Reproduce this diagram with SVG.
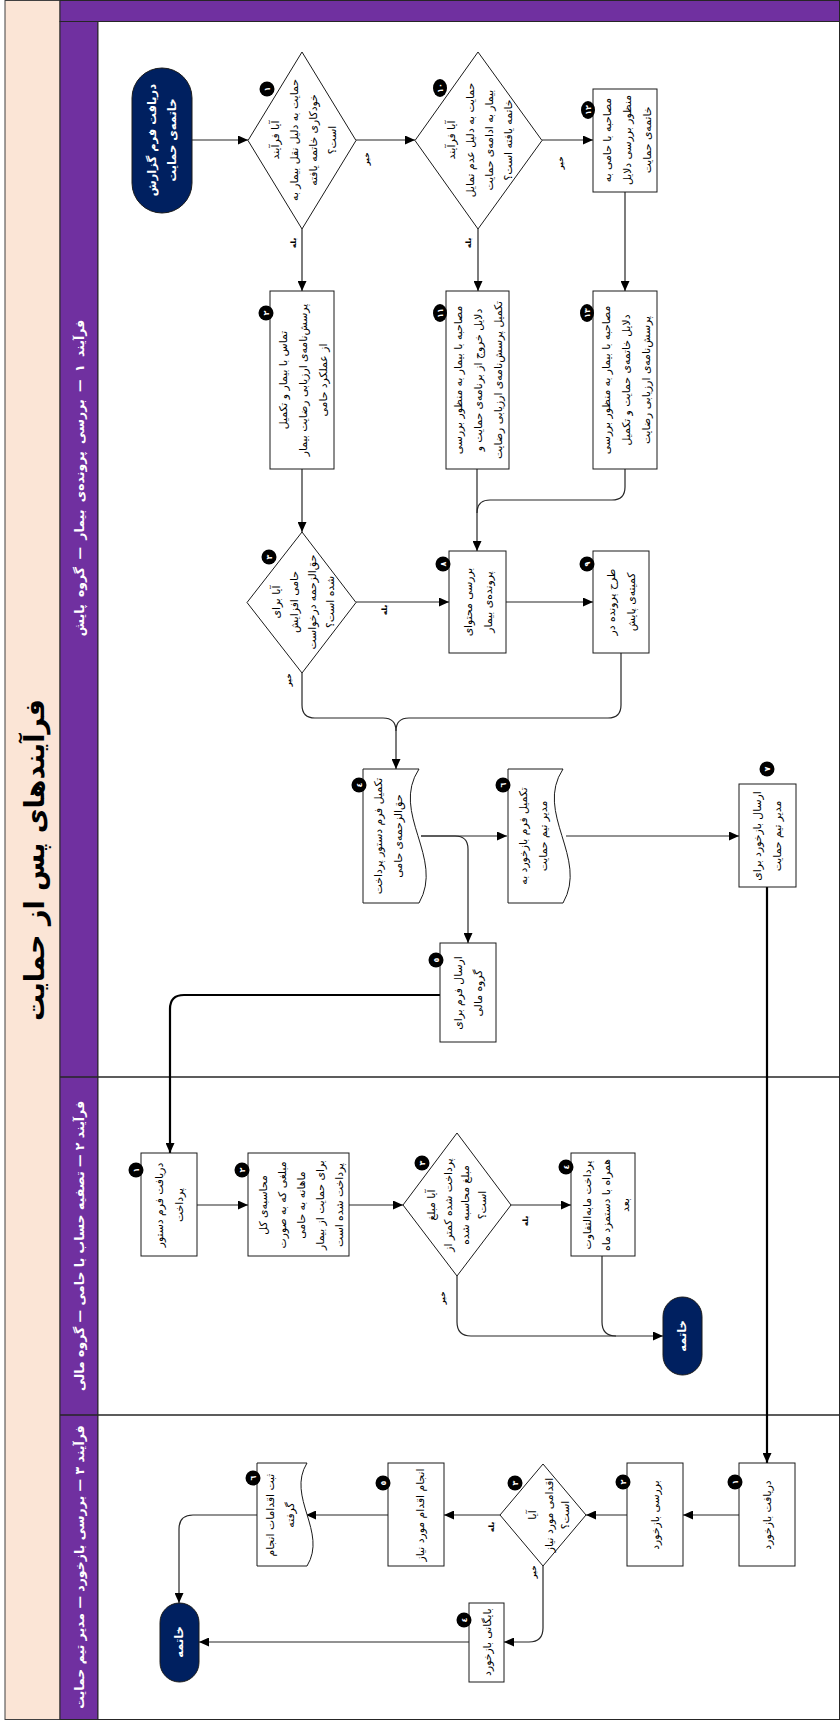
<svg xmlns="http://www.w3.org/2000/svg" width="840" height="1720" viewBox="0 0 840 1720">
  <style>
    .box { fill: #ffffff; stroke: #1a1a1a; stroke-width: 1; }
    .term { fill: #002060; stroke: #1a1a1a; stroke-width: 1; }
    .conn { fill: none; stroke: #262626; stroke-width: 1.2; }
    .thick { fill: none; stroke: #000000; stroke-width: 2.2; }
    .t { font-family: "DejaVu Sans", sans-serif; font-size: 10.8px; fill: #000000; text-anchor: middle; }
    .tw { font-family: "DejaVu Sans", sans-serif; font-size: 11.5px; font-weight: bold; fill: #ffffff; text-anchor: middle; }
    .lane { font-family: "DejaVu Sans", sans-serif; font-size: 12.5px; font-weight: bold; fill: #ffffff; text-anchor: middle; }
    .title { font-family: "DejaVu Sans", sans-serif; font-size: 27px; font-weight: bold; fill: #000000; text-anchor: middle; }
    .yn { font-family: "DejaVu Sans", sans-serif; font-size: 7.5px; font-weight: bold; fill: #000000; text-anchor: middle; }
    .bdg { fill: #000000; }
    .bt { font-family: "DejaVu Sans", sans-serif; font-size: 8px; font-weight: bold; fill: #ffffff; text-anchor: middle; }
  </style>
  <defs>
    <marker id="arr" markerUnits="userSpaceOnUse" markerWidth="11" markerHeight="9" refX="10" refY="4.5" orient="auto">
      <path d="M0,0 L10,4.5 L0,9 z" fill="#000000"/>
    </marker>
  </defs>

  <!-- frame and swimlanes -->
  <g id="frame">
    <rect x="0" y="0" width="840" height="1720" fill="#ffffff"/>
    <rect x="5" y="0.5" width="55" height="1719" fill="#fbe5d6" stroke="#404040" stroke-width="1"/>
    <rect x="60" y="0.5" width="779.5" height="21" fill="#7030a0" stroke="#262626" stroke-width="1"/>
    <rect x="60" y="21.5" width="38" height="1698" fill="#7030a0" stroke="#262626" stroke-width="1"/>
    <rect x="98" y="21.5" width="741.5" height="1698" fill="#ffffff" stroke="#262626" stroke-width="1"/>
    <line x1="60" y1="1077" x2="840" y2="1077" stroke="#262626" stroke-width="1.3"/>
    <line x1="60" y1="1415" x2="840" y2="1415" stroke="#262626" stroke-width="1.3"/>
    <text class="title" transform="translate(44,860) rotate(-90)">فرآیندهای پس از حمایت</text>
    <text class="lane" transform="translate(84,478) rotate(-90)" word-spacing="3">فرآیند ١ — بررسی پرونده&#8204;ی بیمار — گروه پایش</text>
    <text class="lane" transform="translate(84,1246) rotate(-90)">فرآیند ٢ — تصفیه حساب با حامی — گروه مالی</text>
    <text class="lane" transform="translate(84,1567) rotate(-90)">فرآیند ٣ — بررسی بازخورد — مدیر تیم حمایت</text>
  </g>

  <!-- connectors -->
  <g id="connectors">
    <path class="conn" d="M192,140 H248" marker-end="url(#arr)"/>
    <path class="conn" d="M356,140 H415" marker-end="url(#arr)"/>
    <path class="conn" d="M302,229 V291" marker-end="url(#arr)"/>
    <path class="conn" d="M542,140 H593" marker-end="url(#arr)"/>
    <path class="conn" d="M478,229 V291" marker-end="url(#arr)"/>
    <path class="conn" d="M625,192 V291" marker-end="url(#arr)"/>
    <path class="conn" d="M302,469 V532" marker-end="url(#arr)"/>
    <path class="conn" d="M477,469 V551" marker-end="url(#arr)"/>
    <path class="conn" d="M625,469 V487 Q625,500 612,500 H490 Q477,500 477,513"/>
    <path class="conn" d="M356,602 H449" marker-end="url(#arr)"/>
    <path class="conn" d="M506,602 H593" marker-end="url(#arr)"/>
    <path class="conn" d="M302,673 V705 Q302,718 315,718 H383 Q396,718 396,731 V769" marker-end="url(#arr)"/>
    <path class="conn" d="M621,653 V705 Q621,718 608,718 H409 Q396,718 396,731"/>
    <path class="conn" d="M421,836 H507" marker-end="url(#arr)"/>
    <path class="conn" d="M421,836 H455 Q468,836 468,849 V943" marker-end="url(#arr)"/>
    <path class="conn" d="M566,836 H739" marker-end="url(#arr)"/>
    <path class="thick" d="M440,995 H184 Q170,995 170,1009 V1153" marker-end="url(#arr)"/>
    <path class="thick" d="M767,887 V1463" marker-end="url(#arr)"/>
    <path class="conn" d="M197,1205 H248" marker-end="url(#arr)"/>
    <path class="conn" d="M349,1205 H403" marker-end="url(#arr)"/>
    <path class="conn" d="M511,1205 H571" marker-end="url(#arr)"/>
    <path class="conn" d="M457,1276 V1322 Q457,1336 471,1336 H663" marker-end="url(#arr)"/>
    <path class="conn" d="M602,1256 V1322 Q602,1336 616,1336"/>
    <path class="conn" d="M739,1515 H683" marker-end="url(#arr)"/>
    <path class="conn" d="M627,1515 H586" marker-end="url(#arr)"/>
    <path class="conn" d="M500,1515 H444" marker-end="url(#arr)"/>
    <path class="conn" d="M543,1566 V1628 Q543,1642 529,1642 H504" marker-end="url(#arr)"/>
    <path class="conn" d="M388,1515 H306" marker-end="url(#arr)"/>
    <path class="conn" d="M257,1515 H193 Q179,1515 179,1529 V1603" marker-end="url(#arr)"/>
    <path class="conn" d="M469,1642 H199" marker-end="url(#arr)"/>
    <text class="yn" transform="translate(369,159) rotate(-90)">خیر</text>
    <text class="yn" transform="translate(296,243) rotate(-90)">بله</text>
    <text class="yn" transform="translate(563,163) rotate(-90)">خیر</text>
    <text class="yn" transform="translate(471,243) rotate(-90)">بله</text>
    <text class="yn" transform="translate(387,610) rotate(-90)">بله</text>
    <text class="yn" transform="translate(291,680) rotate(-90)">خیر</text>
    <text class="yn" transform="translate(528,1221) rotate(-90)">بله</text>
    <text class="yn" transform="translate(445,1298) rotate(-90)">خیر</text>
    <text class="yn" transform="translate(536,1572) rotate(-90)">خیر</text>
    <text class="yn" transform="translate(494,1527) rotate(-90)">بله</text>
  </g>

  <!-- lane 1 -->
  <g id="start">
    <rect class="term" x="132" y="68" width="60" height="145" rx="30" ry="30"/>
    <text class="tw" transform="translate(162,140) rotate(-90)"><tspan x="0" y="-6">دریافت فرم گزارش</tspan><tspan x="0" y="14">خاتمه&#8204;ی حمایت</tspan></text>
  </g>
  <g id="d1">
    <polygon class="box" points="302,52 356,140.5 302,229 248,140.5"/>
    <text class="t" transform="translate(304,140) rotate(-90)"><tspan x="0" y="-25">آیا فرآیند</tspan><tspan x="0" y="-6">حمایت به دلیل نقل بیمار به</tspan><tspan x="0" y="13">خودکاری خاتمه یافته</tspan><tspan x="0" y="32">است؟</tspan></text>
    <circle class="bdg" cx="267" cy="89" r="7.5"/>
    <text class="bt" transform="translate(267,89) rotate(-90)" y="3">١</text>
  </g>
  <g id="d10">
    <polygon class="box" points="478,52 542,140.5 478,229 415,140.5"/>
    <text class="t" transform="translate(480,140) rotate(-90)"><tspan x="0" y="-25">آیا فرآیند</tspan><tspan x="0" y="-6">حمایت به دلیل عدم تمایل</tspan><tspan x="0" y="13">بیمار به ادامه&#8204;ی حمایت</tspan><tspan x="0" y="32">خاتمه یافته است؟</tspan></text>
    <ellipse class="bdg" cx="440" cy="88" rx="7" ry="9"/>
    <text class="bt" transform="translate(440,88) rotate(-90)" y="3">١٠</text>
  </g>
  <g id="n12">
    <rect class="box" x="593" y="89" width="64" height="103"/>
    <text class="t" transform="translate(627,140) rotate(-90)"><tspan x="0" y="-16">مصاحبه با حامی به</tspan><tspan x="0" y="4">منظور بررسی دلایل</tspan><tspan x="0" y="24">خاتمه&#8204;ی حمایت</tspan></text>
    <ellipse class="bdg" cx="588" cy="110" rx="7" ry="9"/>
    <text class="bt" transform="translate(588,110) rotate(-90)" y="3">١٢</text>
  </g>
  <g id="n2">
    <rect class="box" x="270" y="291" width="64" height="178"/>
    <text class="t" transform="translate(303,380) rotate(-90)"><tspan x="0" y="-16">تماس با بیمار و تکمیل</tspan><tspan x="0" y="4">پرسش&#8204;نامه&#8204;ی ارزیابی رضایت بیمار</tspan><tspan x="0" y="24">از عملکرد حامی</tspan></text>
    <circle class="bdg" cx="266" cy="313" r="7.5"/>
    <text class="bt" transform="translate(266,313) rotate(-90)" y="3">٢</text>
  </g>
  <g id="n11">
    <rect class="box" x="446" y="291" width="63" height="178"/>
    <text class="t" transform="translate(478,380) rotate(-90)"><tspan x="0" y="-16">مصاحبه با بیمار به منظور بررسی</tspan><tspan x="0" y="4">دلایل خروج از برنامه&#8204;ی حمایت و</tspan><tspan x="0" y="24">تکمیل پرسش&#8204;نامه&#8204;ی ارزیابی رضایت</tspan></text>
    <ellipse class="bdg" cx="440" cy="313" rx="7" ry="9"/>
    <text class="bt" transform="translate(440,313) rotate(-90)" y="3">١١</text>
  </g>
  <g id="n13">
    <rect class="box" x="593" y="291" width="64" height="178"/>
    <text class="t" transform="translate(626,380) rotate(-90)"><tspan x="0" y="-16">مصاحبه با بیمار به منظور بررسی</tspan><tspan x="0" y="4">دلایل خاتمه&#8204;ی  حمایت و تکمیل</tspan><tspan x="0" y="24">پرسش&#8204;نامه&#8204;ی ارزیابی رضایت</tspan></text>
    <ellipse class="bdg" cx="587" cy="313" rx="7" ry="9"/>
    <text class="bt" transform="translate(587,313) rotate(-90)" y="3">١٣</text>
  </g>
  <g id="d3">
    <polygon class="box" points="302,532 356,602.5 302,673 247,602.5"/>
    <text class="t" transform="translate(304,602) rotate(-90)"><tspan x="0" y="-24">آیا برای</tspan><tspan x="0" y="-6">حامی افزایش</tspan><tspan x="0" y="12">حق&#8204;الزحمه درخواست</tspan><tspan x="0" y="30">شده است؟</tspan></text>
    <circle class="bdg" cx="269" cy="557" r="7.5"/>
    <text class="bt" transform="translate(269,557) rotate(-90)" y="3">٣</text>
  </g>
  <g id="n8">
    <rect class="box" x="449" y="551" width="57" height="102"/>
    <text class="t" transform="translate(478,602) rotate(-90)"><tspan x="0" y="-6">بررسی محتوای</tspan><tspan x="0" y="14">پرونده&#8204;ی بیمار</tspan></text>
    <circle class="bdg" cx="443" cy="564" r="7.5"/>
    <text class="bt" transform="translate(443,564) rotate(-90)" y="3">٨</text>
  </g>
  <g id="n9">
    <rect class="box" x="593" y="551" width="56" height="102"/>
    <text class="t" transform="translate(621,602) rotate(-90)"><tspan x="0" y="-6">طرح پرونده در</tspan><tspan x="0" y="14">کمیته&#8204;ی پایش</tspan></text>
    <circle class="bdg" cx="587" cy="564" r="7.5"/>
    <text class="bt" transform="translate(587,564) rotate(-90)" y="3">٩</text>
  </g>
  <g id="n4">
    <path class="box" d="M363,769 H419 C390,813 445,858 419,903 H363 Z"/>
    <text class="t" transform="translate(388,836) rotate(-90)"><tspan x="0" y="-6">تکمیل فرم دستور پرداخت</tspan><tspan x="0" y="14">حق&#8204;الزحمه&#8204;ی حامی</tspan></text>
    <circle class="bdg" cx="359" cy="785" r="7.5"/>
    <text class="bt" transform="translate(359,785) rotate(-90)" y="3">٤</text>
  </g>
  <g id="n6">
    <path class="box" d="M508,769 H563 C534,813 589,858 563,903 H508 Z"/>
    <text class="t" transform="translate(533,836) rotate(-90)"><tspan x="0" y="-6">تکمیل فرم بازخورد به</tspan><tspan x="0" y="14">مدیر تیم حمایت</tspan></text>
    <circle class="bdg" cx="503" cy="785" r="7.5"/>
    <text class="bt" transform="translate(503,785) rotate(-90)" y="3">٦</text>
  </g>
  <g id="n7">
    <rect class="box" x="739" y="784" width="57" height="103"/>
    <text class="t" transform="translate(767,836) rotate(-90)"><tspan x="0" y="-6">ارسال بازخورد برای</tspan><tspan x="0" y="14">مدیر تیم حمایت</tspan></text>
    <circle class="bdg" cx="767" cy="769" r="7.5"/>
    <text class="bt" transform="translate(767,769) rotate(-90)" y="3">٧</text>
  </g>
  <g id="n5">
    <rect class="box" x="440" y="943" width="56" height="99"/>
    <text class="t" transform="translate(468,993) rotate(-90)"><tspan x="0" y="-6">ارسال فرم برای</tspan><tspan x="0" y="14">گروه مالی</tspan></text>
    <circle class="bdg" cx="436" cy="960" r="7.5"/>
    <text class="bt" transform="translate(436,960) rotate(-90)" y="3">٥</text>
  </g>

  <!-- lane 2 -->
  <g id="f1">
    <rect class="box" x="141" y="1153" width="56" height="103"/>
    <text class="t" transform="translate(169,1205) rotate(-90)"><tspan x="0" y="-6">دریافت فرم دستور</tspan><tspan x="0" y="14">پرداخت</tspan></text>
    <circle class="bdg" cx="136" cy="1170" r="7.5"/>
    <text class="bt" transform="translate(136,1170) rotate(-90)" y="3">١</text>
  </g>
  <g id="f2">
    <rect class="box" x="248" y="1153" width="101" height="103"/>
    <text class="t" transform="translate(301,1205) rotate(-90)"><tspan x="0" y="-34">محاسبه&#8204;ی کل</tspan><tspan x="0" y="-15">مبلغی که به صورت</tspan><tspan x="0" y="4">ماهانه به حامی</tspan><tspan x="0" y="23">برای حمایت از بیمار</tspan><tspan x="0" y="42">پرداخت شده است</tspan></text>
    <circle class="bdg" cx="242" cy="1170" r="7.5"/>
    <text class="bt" transform="translate(242,1170) rotate(-90)" y="3">٢</text>
  </g>
  <g id="f3">
    <polygon class="box" points="457,1133 511,1205 457,1276 403,1205"/>
    <text class="t" transform="translate(457,1205) rotate(-90)"><tspan x="0" y="-22">آیا مبلغ</tspan><tspan x="0" y="-5">پرداخت شده کمتر از</tspan><tspan x="0" y="12">مبلغ محاسبه شده</tspan><tspan x="0" y="29">است؟</tspan></text>
    <circle class="bdg" cx="422" cy="1163" r="7.5"/>
    <text class="bt" transform="translate(422,1163) rotate(-90)" y="3">٣</text>
  </g>
  <g id="f4">
    <rect class="box" x="571" y="1153" width="64" height="103"/>
    <text class="t" transform="translate(606,1205) rotate(-90)"><tspan x="0" y="-15">پرداخت مابه&#8204;التفاوت</tspan><tspan x="0" y="4">همراه با دستمزد ماه</tspan><tspan x="0" y="23">بعد</tspan></text>
    <circle class="bdg" cx="566" cy="1167" r="7.5"/>
    <text class="bt" transform="translate(566,1167) rotate(-90)" y="3">٤</text>
  </g>
  <g id="f-end">
    <rect class="term" x="663" y="1297" width="39" height="78" rx="19.5" ry="19.5"/>
    <text class="tw" transform="translate(682,1336) rotate(-90)" y="4">خاتمه</text>
  </g>

  <!-- lane 3 -->
  <g id="m1">
    <rect class="box" x="739" y="1463" width="56" height="103"/>
    <text class="t" transform="translate(767,1515) rotate(-90)" y="4">دریافت بازخورد</text>
    <circle class="bdg" cx="735" cy="1482" r="7.5"/>
    <text class="bt" transform="translate(735,1482) rotate(-90)" y="3">١</text>
  </g>
  <g id="m2">
    <rect class="box" x="627" y="1463" width="56" height="103"/>
    <text class="t" transform="translate(655,1515) rotate(-90)" y="4">بررسی بازخورد</text>
    <circle class="bdg" cx="623" cy="1482" r="7.5"/>
    <text class="bt" transform="translate(623,1482) rotate(-90)" y="3">٢</text>
  </g>
  <g id="m3">
    <polygon class="box" points="543,1464 586,1515 543,1566 500,1515"/>
    <text class="t" transform="translate(549,1515) rotate(-90)"><tspan x="0" y="-13">آیا</tspan><tspan x="0" y="4">اقدامی مورد نیاز</tspan><tspan x="0" y="20">است؟</tspan></text>
    <circle class="bdg" cx="515" cy="1483" r="7.5"/>
    <text class="bt" transform="translate(515,1483) rotate(-90)" y="3">٣</text>
  </g>
  <g id="m4">
    <rect class="box" x="469" y="1603" width="35" height="79"/>
    <text class="t" transform="translate(487,1642) rotate(-90)" y="4">بایگانی بازخورد</text>
    <circle class="bdg" cx="464" cy="1620" r="7.5"/>
    <text class="bt" transform="translate(464,1620) rotate(-90)" y="3">٤</text>
  </g>
  <g id="m5">
    <rect class="box" x="388" y="1463" width="56" height="103"/>
    <text class="t" transform="translate(420,1515) rotate(-90)" y="4">انجام اقدام مورد نیاز</text>
    <circle class="bdg" cx="383" cy="1483" r="7.5"/>
    <text class="bt" transform="translate(383,1483) rotate(-90)" y="3">٥</text>
  </g>
  <g id="m6">
    <path class="box" d="M257,1463 H307 C286,1497 328,1532 307,1566 H257 Z"/>
    <text class="t" transform="translate(280,1515) rotate(-90)"><tspan x="0" y="-6">ثبت اقدامات انجام</tspan><tspan x="0" y="14">گرفته</tspan></text>
    <circle class="bdg" cx="253" cy="1478" r="7.5"/>
    <text class="bt" transform="translate(253,1478) rotate(-90)" y="3">٦</text>
  </g>
  <g id="m-end">
    <rect class="term" x="160" y="1603" width="39" height="79" rx="19.5" ry="19.5"/>
    <text class="tw" transform="translate(179,1642) rotate(-90)" y="4">خاتمه</text>
  </g>
</svg>
